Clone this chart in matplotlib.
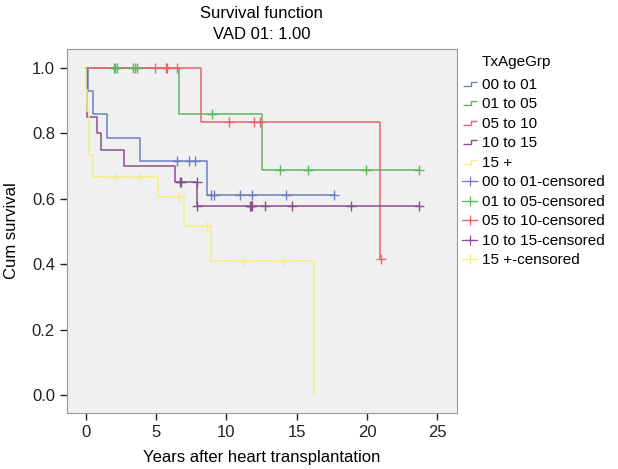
import matplotlib.pyplot as plt
from matplotlib.path import Path
from matplotlib.lines import Line2D

plt.rcParams['font.family'] = ['Liberation Sans', 'DejaVu Sans']

# grupos de edad al trasplante
groups = ['00 to 01', '01 to 05', '05 to 10', '10 to 15', '15 +']
colors = ['#6f7fc0', '#5db65d', '#e8646e', '#8a508c', '#f2ee84']

# tiempos de evento y supervivencia tras cada evento
t_00 = [0, 0.14, 0.5, 1.5, 3.86, 8.6]
s_00 = [1.0, 0.929, 0.857, 0.786, 0.714, 0.612]
t_01 = [0, 6.6, 12.56]
s_01 = [1.0, 0.857, 0.686]
t_05 = [0, 8.2, 20.9]
s_05 = [1.0, 0.833, 0.417]
t_10 = [0, 0.07, 0.83, 1.09, 2.75, 6.35, 7.94]
s_10 = [1.0, 0.85, 0.80, 0.75, 0.70, 0.65, 0.578]
t_15 = [0, 0.03, 0.1, 0.2, 0.26, 0.54, 5.17, 6.99, 8.88, 16.2]
s_15 = [1.0, 0.933, 0.867, 0.80, 0.733, 0.667, 0.604, 0.516, 0.41, 0.0]
ends = [17.7, 23.7, 20.95, 23.7, 16.2]

# censurados (tiempo, supervivencia)
ct_00 = [6.47, 7.37, 7.77, 8.9, 9.1, 10.97, 11.8, 14.25, 17.68]
cs_00 = [0.714, 0.714, 0.714, 0.612, 0.612, 0.612, 0.612, 0.612, 0.612]
ct_01 = [2.0, 2.08, 2.2, 3.34, 3.5, 3.67, 8.96, 13.8, 15.8, 19.9, 23.7]
cs_01 = [1.0, 1.0, 1.0, 1.0, 1.0, 1.0, 0.857, 0.686, 0.686, 0.686, 0.686]
ct_05 = [4.94, 5.7, 5.8, 6.5, 10.2, 12.0, 12.4, 21.0]
cs_05 = [1.0, 1.0, 1.0, 1.0, 0.833, 0.833, 0.833, 0.417]
ct_10 = [6.7, 6.8, 7.9, 7.94, 11.7, 11.76, 11.82, 12.75, 14.65, 18.85, 23.7]
cs_10 = [0.65, 0.65, 0.65, 0.578, 0.578, 0.578, 0.578, 0.578, 0.578, 0.578, 0.578]
ct_15 = [2.08, 3.79, 6.6, 8.6, 11.2, 14.0]
cs_15 = [0.667, 0.667, 0.604, 0.516, 0.41, 0.41]

times = [t_00, t_01, t_05, t_10, t_15]
survs = [s_00, s_01, s_05, s_10, s_15]
cens_t = [ct_00, ct_01, ct_05, ct_10, ct_15]
cens_s = [cs_00, cs_01, cs_05, cs_10, cs_15]

fig = plt.figure(figsize=(6.18, 4.69), dpi=100)
ax = fig.add_axes([0.108, 0.1194, 0.6315, 0.7761])
ax.set_facecolor('#f0f0f0')

for t, s, end, c in zip(times, survs, ends, colors):
    ax.step(t + [end], s + [s[-1]], where='post', color=c, lw=1.1)
for ct, cs, c in zip(cens_t, cens_s, colors):
    ax.plot(ct, cs, ls='none', marker='+', ms=7, mew=1.0, color=c)

ax.set_xlim(-1.35, 26.4)
ax.set_ylim(-0.055, 1.057)
ax.set_xticks([0, 5, 10, 15, 20, 25])
ax.set_yticks([0.0, 0.2, 0.4, 0.6, 0.8, 1.0])
ax.set_yticklabels(['0.0', '0.2', '0.4', '0.6', '0.8', '1.0'])
ax.tick_params(direction='out', length=5, width=1, labelsize=12, colors='#222222')
for sp in ax.spines.values():
    sp.set_color('#999999')
ax.set_xlabel('Years after heart transplantation', fontsize=12, labelpad=7)
ax.set_ylabel('Cum survival', fontsize=12, labelpad=9)
ax.set_title('Survival function\nVAD 01: 1.00', fontsize=12, linespacing=1.5, pad=7)

# leyenda fuera de los ejes
step = Path([(-1, -0.3), (0.15, -0.3), (0.15, 0.3), (1, 0.3)],
            [Path.MOVETO, Path.LINETO, Path.LINETO, Path.LINETO])
handles = []
labels = []
for g, c in zip(groups, colors):
    handles.append(Line2D([], [], ls='none', marker=step, ms=10, mew=1,
                          mfc='none', mec=c))
    labels.append(g)
for g, c in zip(groups, colors):
    handles.append(Line2D([], [], ls='-', lw=0.9, marker='+', ms=7, mew=0.9, color=c))
    labels.append(g + '-censored')
fig.text(0.779, 0.868, 'TxAgeGrp', fontsize=11, va='center')
fig.legend(handles, labels, loc='upper left', bbox_to_anchor=(0.738, 0.847),
           frameon=False, fontsize=11, handlelength=1.0, handletextpad=0.3,
           labelspacing=0.36, borderaxespad=0)

fig.savefig('out.png', dpi=100)
